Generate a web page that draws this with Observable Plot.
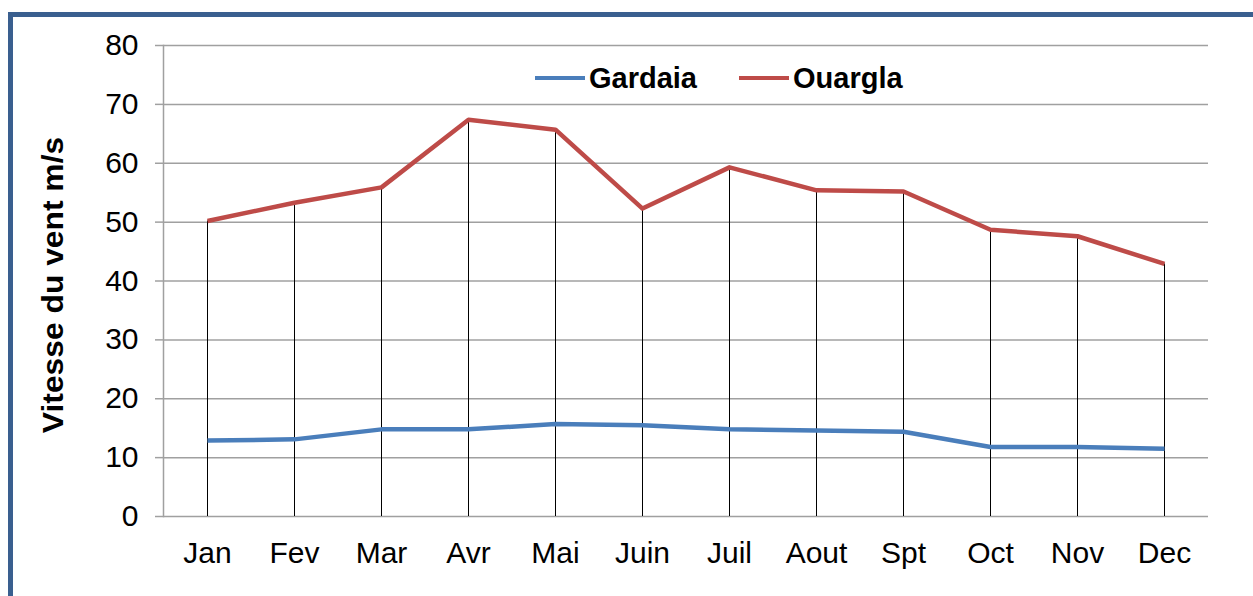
<!DOCTYPE html>
<html>
<head>
<meta charset="utf-8">
<script src="https://cdn.jsdelivr.net/npm/d3@7"></script>
<script src="https://cdn.jsdelivr.net/npm/@observablehq/plot@0.6"></script>
<style>
  html, body { margin: 0; padding: 0; background: #fff; }
  #wrap { position: relative; width: 1253px; height: 596px; overflow: hidden; font-family: "Liberation Sans", Arial, sans-serif; }
  #border { position: absolute; left: 8px; top: 12px; width: 1400px; height: 800px; border-left: 5px solid #3A5F8F; border-top: 5px solid #3A5F8F; box-sizing: border-box; }
  #chart { position: absolute; left: 0; top: 0; }
  #ylabel { position: absolute; left: 53px; top: 285px; transform: translate(-50%, -50%) rotate(-90deg) scaleX(1.06); font-weight: bold; font-size: 30px; white-space: nowrap; color: #000; }
  #legend { position: absolute; left: 535px; top: 60px; height: 36px; display: flex; align-items: center; font-weight: bold; font-size: 29px; color: #000; }
  .sw { width: 50px; height: 4.5px; margin-right: 4px; }
  .item { display: flex; align-items: center; }
</style>
</head>
<body>
<div id="wrap">
  <div id="border"></div>
  <div id="chart"></div>
  <div id="ylabel"></div>
  <div id="legend"></div>
</div>
<script>
const months = ["Jan","Fev","Mar","Avr","Mai","Juin","Juil","Aout","Spt","Oct","Nov","Dec"];
const gardaia = [12.9, 13.1, 14.8, 14.8, 15.7, 15.5, 14.8, 14.6, 14.4, 11.8, 11.8, 11.5];
const ouargla = [50.2, 53.3, 55.9, 67.4, 65.7, 52.3, 59.3, 55.4, 55.2, 48.7, 47.6, 42.9];
const yTicks = [0, 10, 20, 30, 40, 50, 60, 70, 80];
const seriesNames = ["Gardaia", "Ouargla"];
const seriesColors = ["#4A7EBB", "#BE4B48"];
const yTitle = "Vitesse du vent m/s";

const data = [];
months.forEach((m, i) => {
  data.push({month: m, series: "Gardaia", value: gardaia[i]});
  data.push({month: m, series: "Ouargla", value: ouargla[i]});
});
const ouarglaData = data.filter(d => d.series === "Ouargla");

const chart = Plot.plot({
  width: 1253,
  height: 596,
  marginLeft: 163,
  marginRight: 45,
  marginTop: 45,
  marginBottom: 80,
  style: {fontFamily: "'Liberation Sans', Arial, sans-serif", fontSize: "30px", color: "#000", background: "transparent", overflow: "visible"},
  x: {type: "point", domain: months, padding: 0.5, label: null},
  y: {domain: [0, 80], label: null},
  color: {domain: seriesNames, range: seriesColors},
  marks: [
    Plot.gridY(yTicks, {stroke: "#a0a0a0", strokeOpacity: 1, strokeWidth: 1.5}),
    Plot.frame({anchor: "left", stroke: "#a0a0a0", strokeWidth: 1.5}),
    Plot.axisY(yTicks, {tickSize: 8, tickPadding: 17, stroke: "#a0a0a0", strokeWidth: 1.5, fill: "#000", label: null, tickFormat: d => String(d)}),
    Plot.axisX({tickSize: 0, tickPadding: 25, fill: "#000", label: null}),
    Plot.ruleX(ouarglaData, {x: "month", y1: 0, y2: "value", stroke: "#000", strokeWidth: 1}),
    Plot.line(data, {x: "month", y: "value", z: "series", stroke: "series", strokeWidth: 4.5, strokeLinejoin: "round", strokeLinecap: "butt"})
  ]
});
document.getElementById("chart").appendChild(chart);
document.getElementById("ylabel").textContent = yTitle;

const legend = document.getElementById("legend");
seriesNames.forEach((name, i) => {
  const item = document.createElement("div");
  item.className = "item";
  if (i > 0) item.style.marginLeft = "42px";
  const sw = document.createElement("div");
  sw.className = "sw";
  sw.style.background = seriesColors[i];
  const t = document.createElement("span");
  t.textContent = name;
  item.appendChild(sw);
  item.appendChild(t);
  legend.appendChild(item);
});
</script>
</body>
</html>
